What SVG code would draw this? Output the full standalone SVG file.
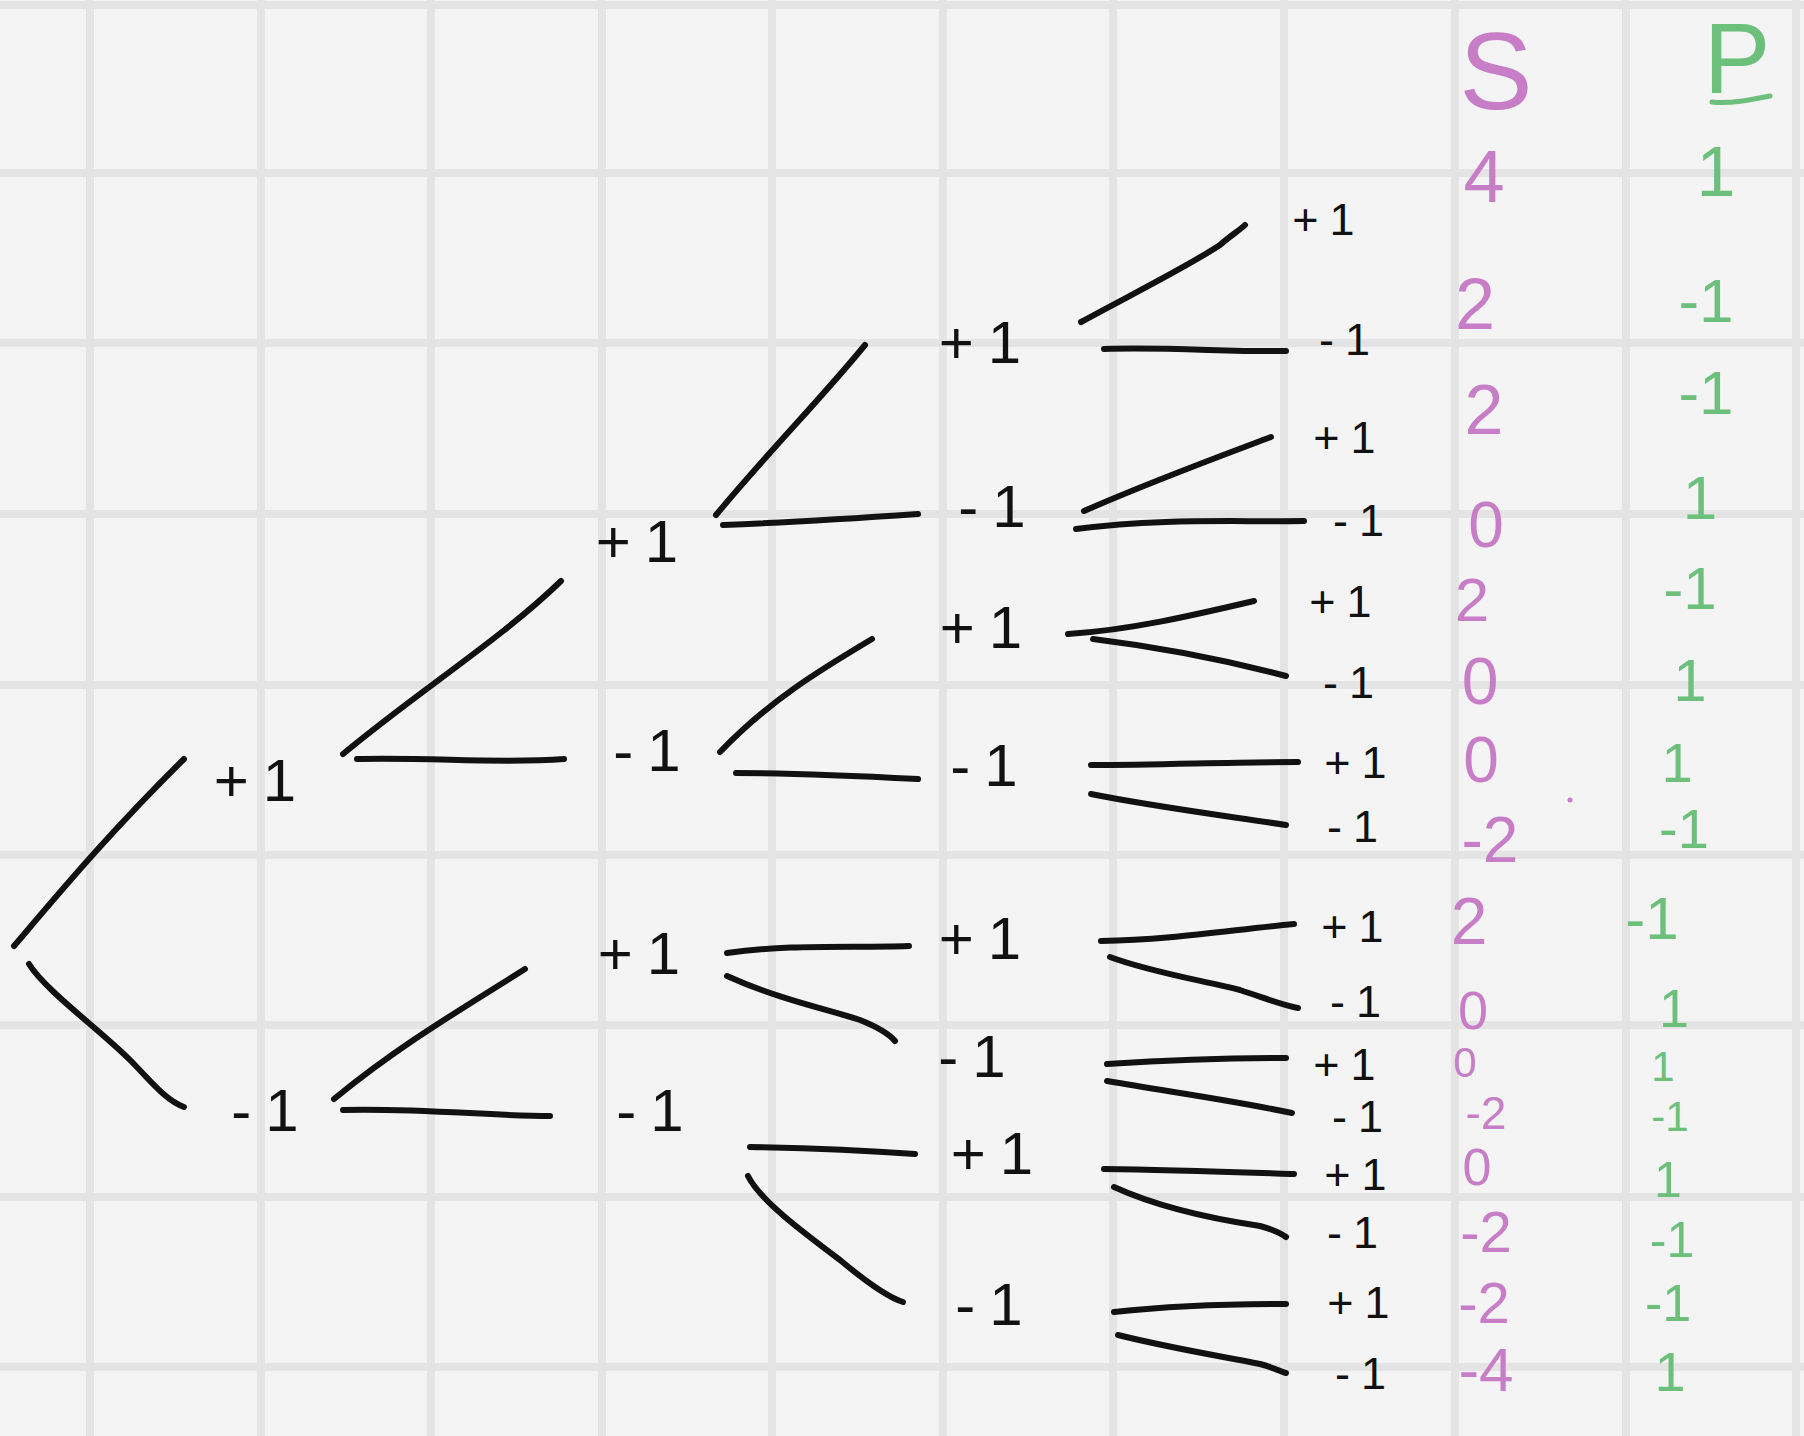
<svg xmlns="http://www.w3.org/2000/svg" width="1804" height="1436" viewBox="0 0 1804 1436">
<style>
.grid line{stroke:#e4e4e4;stroke-width:8}
.pen{fill:none;stroke:#111;stroke-width:6;stroke-linecap:round;stroke-linejoin:round}
.lbl{font-family:"Liberation Sans",Arial,sans-serif;fill:#111;text-anchor:middle;dominant-baseline:central}
.l1{font-size:60px;letter-spacing:14px}
.l4{font-size:45px;letter-spacing:11px}
.s{font-family:"Liberation Sans",Arial,sans-serif;fill:#c77ec7;text-anchor:middle;dominant-baseline:central}
.p{font-family:"Liberation Sans",Arial,sans-serif;fill:#6cc07c;text-anchor:middle;dominant-baseline:central}
</style>
<rect width="1804" height="1436" fill="#f4f4f4"/>
<g class="grid">
<line x1="90" y1="0" x2="90" y2="1436"/><line x1="261" y1="0" x2="261" y2="1436"/><line x1="431" y1="0" x2="431" y2="1436"/><line x1="602" y1="0" x2="602" y2="1436"/><line x1="772" y1="0" x2="772" y2="1436"/><line x1="943" y1="0" x2="943" y2="1436"/><line x1="1113" y1="0" x2="1113" y2="1436"/><line x1="1284" y1="0" x2="1284" y2="1436"/><line x1="1455" y1="0" x2="1455" y2="1436"/><line x1="1626" y1="0" x2="1626" y2="1436"/><line x1="1796" y1="0" x2="1796" y2="1436"/>
<line x1="0" y1="5" x2="1804" y2="5"/><line x1="0" y1="173" x2="1804" y2="173"/><line x1="0" y1="343" x2="1804" y2="343"/><line x1="0" y1="514" x2="1804" y2="514"/><line x1="0" y1="685" x2="1804" y2="685"/><line x1="0" y1="855" x2="1804" y2="855"/><line x1="0" y1="1025" x2="1804" y2="1025"/><line x1="0" y1="1197" x2="1804" y2="1197"/><line x1="0" y1="1367" x2="1804" y2="1367"/>
</g>
<g id="connectors" class="pen">
<path d="M14,946 C60,892 110,832 184,759"/>
<path d="M29,964 C45,990 100,1030 130,1060 C150,1080 165,1100 184,1107"/>
<path d="M343,754 C420,690 500,640 561,581"/>
<path d="M357,759 C430,757 500,764 564,759"/>
<path d="M334,1099 C400,1045 460,1010 525,969"/>
<path d="M343,1110 C420,1108 490,1116 550,1116"/>
<path d="M716,515 C770,450 820,400 865,345"/>
<path d="M723,525 C800,522 860,518 918,514"/>
<path d="M720,752 C770,700 820,670 872,639"/>
<path d="M736,773 C800,773 860,776 918,779"/>
<path d="M727,953 C790,944 850,948 909,946"/>
<path d="M727,976 C780,1000 830,1010 860,1020 C880,1028 890,1035 895,1041"/>
<path d="M750,1147 C810,1148 860,1150 915,1154"/>
<path d="M748,1176 C760,1200 800,1230 840,1260 C870,1285 890,1298 903,1302"/>
<path d="M1081,322 C1140,290 1190,265 1220,245 C1230,236 1240,230 1245,225"/>
<path d="M1104,349 C1170,347 1230,352 1286,351"/>
<path d="M1084,511 C1150,482 1210,460 1271,437"/>
<path d="M1076,529 C1160,518 1230,522 1304,521"/>
<path d="M1068,634 C1130,630 1190,616 1254,601"/>
<path d="M1093,639 C1150,646 1210,656 1286,676"/>
<path d="M1091,765 C1160,765 1230,762 1298,762"/>
<path d="M1091,794 C1150,806 1220,815 1286,825"/>
<path d="M1101,941 C1170,940 1230,930 1294,924"/>
<path d="M1110,957 C1150,972 1200,980 1240,990 C1270,1000 1285,1006 1298,1008"/>
<path d="M1107,1064 C1170,1060 1230,1058 1286,1058"/>
<path d="M1107,1081 C1170,1092 1230,1100 1292,1113"/>
<path d="M1104,1169 C1170,1170 1230,1172 1294,1174"/>
<path d="M1114,1187 C1160,1208 1220,1220 1260,1226 C1275,1230 1282,1234 1286,1237"/>
<path d="M1114,1312 C1170,1306 1230,1304 1286,1304"/>
<path d="M1118,1335 C1170,1348 1220,1356 1260,1364 C1275,1368 1282,1372 1286,1373"/>
</g>
<g id="n-root-plus" class="lbl l1"><text x="262" y="780">+1</text></g>
<g id="n-root-minus" class="lbl l1"><text x="272" y="1110">-1</text></g>
<g id="n-2a" class="lbl l1"><text x="644" y="541">+1</text></g>
<g id="n-2b" class="lbl l1"><text x="654" y="750">-1</text></g>
<g id="n-2c" class="lbl l1"><text x="646" y="953">+1</text></g>
<g id="n-2d" class="lbl l1"><text x="657" y="1110">-1</text></g>
<g id="n-3a" class="lbl l1"><text x="987" y="342">+1</text></g>
<g id="n-3b" class="lbl l1"><text x="999" y="506">-1</text></g>
<g id="n-3c" class="lbl l1"><text x="988" y="627">+1</text></g>
<g id="n-3d" class="lbl l1"><text x="991" y="765">-1</text></g>
<g id="n-3e" class="lbl l1"><text x="987" y="938">+1</text></g>
<g id="n-3f" class="lbl l1"><text x="979" y="1056">-1</text></g>
<g id="n-3g" class="lbl l1"><text x="999" y="1153">+1</text></g>
<g id="n-3h" class="lbl l1"><text x="996" y="1304">-1</text></g>
<g id="leaves" class="lbl l4">
<g id="leaf1"><text x="1329" y="219">+1</text></g>
<g id="leaf2"><text x="1350" y="339">-1</text></g>
<g id="leaf3"><text x="1350" y="437">+1</text></g>
<g id="leaf4"><text x="1364" y="520">-1</text></g>
<g id="leaf5"><text x="1346" y="601">+1</text></g>
<g id="leaf6"><text x="1354" y="682">-1</text></g>
<g id="leaf7"><text x="1361" y="762">+1</text></g>
<g id="leaf8"><text x="1358" y="826">-1</text></g>
<g id="leaf9"><text x="1358" y="926">+1</text></g>
<g id="leaf10"><text x="1361" y="1001">-1</text></g>
<g id="leaf11"><text x="1350" y="1064">+1</text></g>
<g id="leaf12"><text x="1363" y="1116">-1</text></g>
<g id="leaf13"><text x="1361" y="1174">+1</text></g>
<g id="leaf14"><text x="1358" y="1232">-1</text></g>
<g id="leaf15"><text x="1364" y="1302">+1</text></g>
<g id="leaf16"><text x="1366" y="1373">-1</text></g>
</g>
<g id="col-S">
<text class="s" x="1496" y="70" style="font-size:110px">S</text>
<text class="s" x="1484" y="176" style="font-size:74px">4</text>
<text class="s" x="1475" y="304" style="font-size:72px">2</text>
<text class="s" x="1484" y="410" style="font-size:70px">2</text>
<text class="s" x="1486" y="525" style="font-size:64px">0</text>
<text class="s" x="1472" y="599" style="font-size:62px">2</text>
<text class="s" x="1480" y="681" style="font-size:66px">0</text>
<text class="s" x="1481" y="760" style="font-size:64px">0</text>
<text class="s" x="1490" y="840" style="font-size:64px">-2</text>
<text class="s" x="1469" y="921" style="font-size:66px">2</text>
<text class="s" x="1473" y="1010" style="font-size:54px">0</text>
<text class="s" x="1465" y="1062" style="font-size:42px">0</text>
<text class="s" x="1486" y="1113" style="font-size:46px">-2</text>
<text class="s" x="1477" y="1167" style="font-size:52px">0</text>
<text class="s" x="1486" y="1231" style="font-size:58px">-2</text>
<text class="s" x="1484" y="1302" style="font-size:58px">-2</text>
<text class="s" x="1486" y="1369" style="font-size:62px">-4</text>
<circle cx="1570" cy="800" r="2.5" fill="#c77ec7"/>
</g>
<g id="col-P">
<text class="p" x="1737" y="58" style="font-size:100px">P</text>
<path d="M1712,102 C1730,104 1750,100 1770,96" fill="none" stroke="#6cc07c" stroke-width="5" stroke-linecap="round"/>
<text class="p" x="1716" y="172" style="font-size:70px">1</text>
<text class="p" x="1706" y="300" style="font-size:62px">-1</text>
<text class="p" x="1706" y="392" style="font-size:62px">-1</text>
<text class="p" x="1700" y="497" style="font-size:62px">1</text>
<text class="p" x="1690" y="588" style="font-size:60px">-1</text>
<text class="p" x="1690" y="680" style="font-size:60px">1</text>
<text class="p" x="1677" y="762" style="font-size:56px">1</text>
<text class="p" x="1684" y="828" style="font-size:56px">-1</text>
<text class="p" x="1652" y="918" style="font-size:60px">-1</text>
<text class="p" x="1674" y="1008" style="font-size:54px">1</text>
<text class="p" x="1663" y="1066" style="font-size:42px">1</text>
<text class="p" x="1670" y="1116" style="font-size:42px">-1</text>
<text class="p" x="1668" y="1180" style="font-size:50px">1</text>
<text class="p" x="1672" y="1240" style="font-size:50px">-1</text>
<text class="p" x="1668" y="1303" style="font-size:52px">-1</text>
<text class="p" x="1670" y="1371" style="font-size:56px">1</text>
</g>
</svg>
